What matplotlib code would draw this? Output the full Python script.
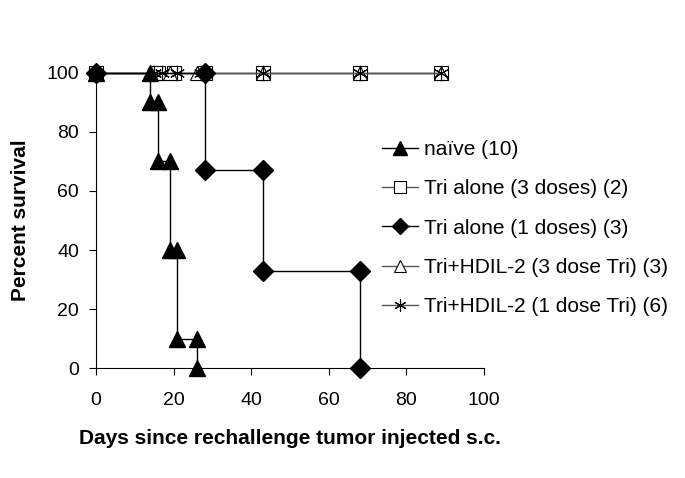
import matplotlib
matplotlib.use('Agg')
from matplotlib import pyplot as plt

plt.rcParams['font.family'] = ['Liberation Sans', 'DejaVu Sans']

# Kaplan-Meier style step data (days, percent survival)
naive_x = [0, 14, 14, 16, 16, 19, 19, 21, 21, 26, 26]
naive_y = [100, 100, 90, 90, 70, 70, 40, 40, 10, 10, 0]

tri3_x = [0, 16, 20, 28, 43, 68, 89]
tri3_y = [100, 100, 100, 100, 100, 100, 100]

tri1_x = [0, 28, 28, 43, 43, 68, 68]
tri1_y = [100, 100, 67, 67, 33, 33, 0]

hd3_x = [0, 14, 19, 26, 43, 68, 89]
hd3_y = [100, 100, 100, 100, 100, 100, 100]

hd1_x = [0, 15, 17, 21, 27, 43, 68, 89]
hd1_y = [100, 100, 100, 100, 100, 100, 100, 100]

fig = plt.figure(figsize=(6.85, 4.78), dpi=100)
ax = fig.add_axes([0.140, 0.2301, 0.5666, 0.6172])

ax.plot(naive_x, naive_y, color='black', lw=1, marker='^', ms=12,
        mfc='black', mec='black', label='naïve (10)', clip_on=False, zorder=5)
ax.plot(tri3_x, tri3_y, color='#555555', lw=1, marker='s', ms=10,
        mfc='white', mec='black', mew=0.8, label='Tri alone (3 doses) (2)', clip_on=False)
ax.plot(tri1_x, tri1_y, color='black', lw=1, marker='D', ms=10,
        mfc='black', mec='black', label='Tri alone (1 doses) (3)', clip_on=False, zorder=5)
ax.plot(hd3_x, hd3_y, color='#555555', lw=1, marker='^', ms=10,
        mfc='white', mec='black', mew=0.8, label='Tri+HDIL-2 (3 dose Tri) (3)', clip_on=False)
ax.plot(hd1_x, hd1_y, color='#555555', lw=1, marker=(6, 2, 0), ms=11,
        mec='black', mew=0.8, label='Tri+HDIL-2 (1 dose Tri) (6)', clip_on=False)

ax.set_xlim(0, 100)
ax.set_ylim(0, 100)
ax.set_xticks(range(0, 101, 20))
ax.set_yticks(range(0, 101, 20))
ax.spines['top'].set_visible(False)
ax.spines['right'].set_visible(False)
ax.tick_params(labelsize=14, length=5, direction='out')
ax.tick_params(axis='x', pad=12)
ax.tick_params(axis='y', pad=7)

ax.set_xlabel('Days since rechallenge tumor injected s.c.', fontsize=15,
              fontweight='bold', labelpad=15)
ax.set_ylabel('Percent survival', fontsize=15, fontweight='bold', labelpad=12)

ax.legend(loc='upper left', bbox_to_anchor=(0.737, 0.773), frameon=False,
          fontsize=15, handlelength=1.75, handletextpad=0.25, labelspacing=0.975,
          borderaxespad=0, borderpad=0, markerscale=0.8)

plt.savefig('out.png', dpi=100)
